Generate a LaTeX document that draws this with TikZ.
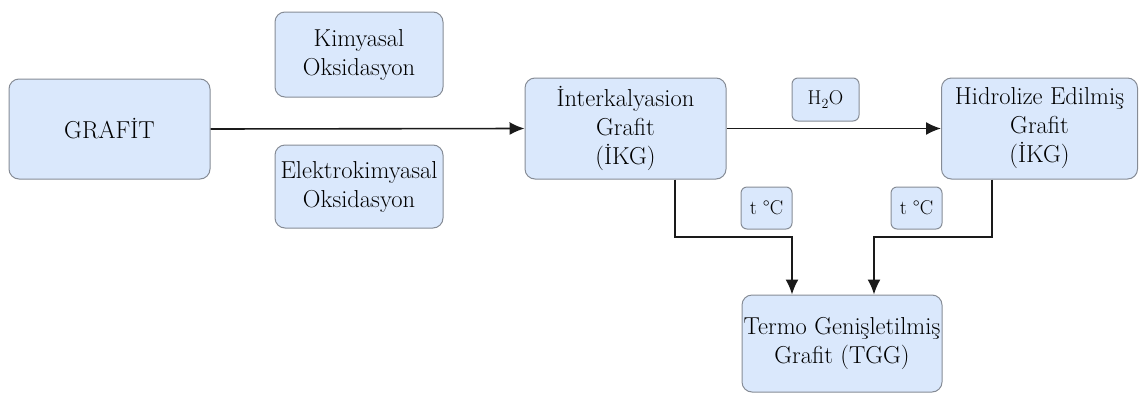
\documentclass[tikz,border=0pt]{standalone}
\usepackage{fontspec}
\usetikzlibrary{arrows.meta}
\definecolor{boxfill}{HTML}{DAE8FC}
\definecolor{boxline}{HTML}{868C96}
\definecolor{wire}{HTML}{1A1A1A}
\begin{document}
\begin{tikzpicture}[x=1pt,y=-1pt,
  box/.style={draw=boxline, fill=boxfill, line width=1pt, rounded corners=10pt,
    align=center, inner sep=0pt, text=black,
    font=\fontsize{24.5}{29}\selectfont},
  tag/.style={box, rounded corners=6pt, font=\fontsize{20}{24}\selectfont},
  link/.style={draw=wire, line width=1.6pt, -{Latex[length=15pt,width=13pt]}}]
  \useasboundingbox (0,0) rectangle (1139,394);

  % process boxes
  \node[box, minimum width=201pt, minimum height=100pt] (grafit) at (109.5,129) {GRAFİT};
  \node[box, minimum width=168pt, minimum height=85pt] (kim) at (359,54.5) {Kimyasal\\Oksidasyon};
  \node[box, minimum width=168pt, minimum height=83pt] (elek) at (359,186.5) {Elektrokimyasal\\Oksidasyon};
  \node[box, minimum width=201pt, minimum height=101pt] (ikg) at (625.5,128.5) {İnterkalyasion\\Grafit\\(İKG)};
  \node[box, minimum width=196pt, minimum height=101pt] (hik) at (1039.5,128.5) {Hidrolize Edilmiş\\Grafit\\(İKG)};
  \node[box, minimum width=200pt, minimum height=97pt] (tgg) at (842,343.5) {Termo Genişletilmiş\\Grafit (TGG)};

  % condition tags
  \node[tag, minimum width=67pt, minimum height=43pt] (water) at (825.5,99.5) {H\textsubscript{2}O};
  \node[tag, minimum width=51pt, minimum height=42pt] (heatA) at (766.5,208) {t °C};
  \node[tag, minimum width=51pt, minimum height=42pt] (heatB) at (916.5,208) {t °C};

  % bend points of the heating paths
  \coordinate (a1) at (675,237);
  \coordinate (a2) at (792,237);
  \coordinate (b1) at (992,237);
  \coordinate (b2) at (874,237);

  % connectors
  \draw[link] (grafit.east) -- (ikg.west);
  \draw[link] (ikg.east) -- (hik.west);
  \draw[link] (ikg.south -| a1) -- (a1) -- (a2) -- (tgg.north -| a2);
  \draw[link] (hik.south -| b1) -- (b1) -- (b2) -- (tgg.north -| b2);
\end{tikzpicture}
\end{document}
